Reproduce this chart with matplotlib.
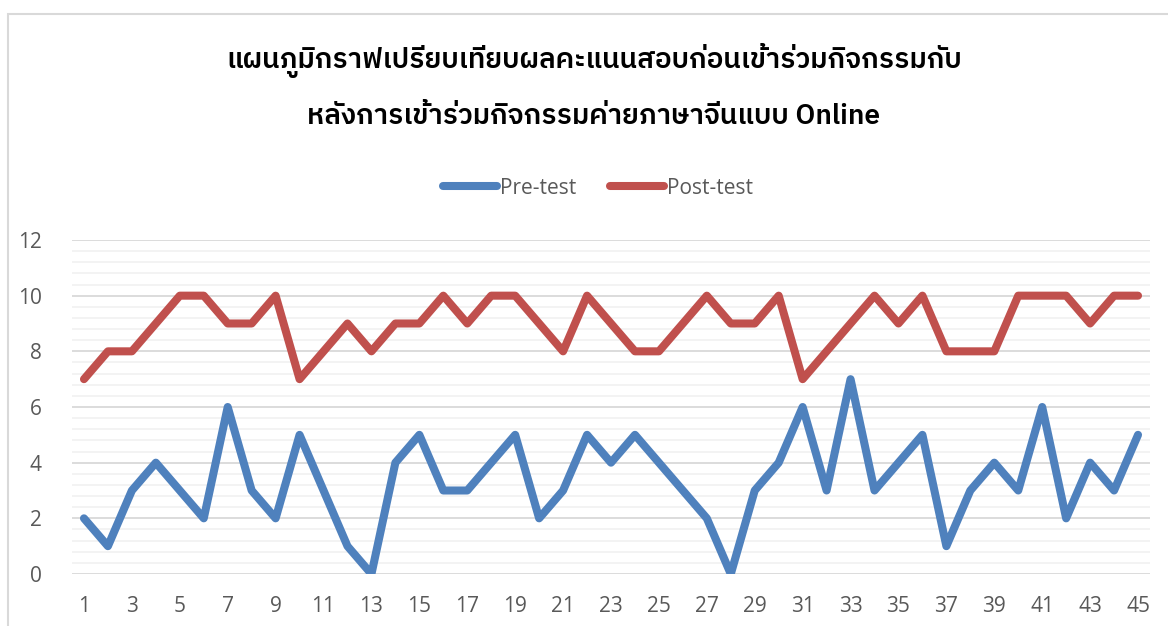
import numpy as np
import matplotlib
matplotlib.use("Agg")
import matplotlib.pyplot as plt
from matplotlib import font_manager
from matplotlib.ticker import MultipleLocator
from matplotlib.patches import Rectangle

# ข้อมูลคะแนน 45 คน
students = list(range(1, 46))
pre_test = [2, 1, 3, 4, 3, 2, 6, 3, 2, 5, 3, 1, 0, 4, 5, 3, 3, 4, 5, 2, 3, 5, 4, 5, 4,
            3, 2, 0, 3, 4, 6, 3, 7, 3, 4, 5, 1, 3, 4, 3, 6, 2, 4, 3, 5]
post_test = [7, 8, 8, 9, 10, 10, 9, 9, 10, 7, 8, 9, 8, 9, 9, 10, 9, 10, 10, 9, 8, 10, 9, 8, 8,
             9, 10, 9, 9, 10, 7, 8, 9, 10, 9, 10, 8, 8, 8, 10, 10, 10, 9, 10, 10]
series_names = ["Pre-test", "Post-test"]
title_lines = ["แผนภูมิกราฟเปรียบเทียบผลคะแนนสอบก่อนเข้าร่วมกิจกรรมกับ",
               "หลังการเข้าร่วมกิจกรรมค่ายภาษาจีนแบบ Online"]

# หาฟอนต์ภาษาไทยถ้ามี
thai_fonts = sorted({f.name for f in font_manager.fontManager.ttflist if "Thai" in f.name})
title_family = thai_fonts + ["Open Sans", "DejaVu Sans"]

plt.rcParams['font.family'] = ["Open Sans", "DejaVu Sans"]
text_color = "#595959"

fig = plt.figure(figsize=(11.68, 6.26), dpi=100)
fig.patches.append(Rectangle((8 / 1168, -0.1), 1.2, 1 - 14 / 626 + 0.1,
                             transform=fig.transFigure, fill=False,
                             edgecolor="#D9D9D9", linewidth=1.5))

ax = fig.add_axes([72 / 1168, 1 - 574 / 626, (1150 - 72) / 1168, (574 - 240) / 626])
ax.plot(students, pre_test, color="#4F81BD", linewidth=5.8, solid_capstyle="round",
        solid_joinstyle="round", label=series_names[0], zorder=3)
ax.plot(students, post_test, color="#C0504D", linewidth=5.8, solid_capstyle="round",
        solid_joinstyle="round", label=series_names[1], zorder=3)

ax.set_xlim(0.5, 45.5)
ax.set_ylim(0, 12)
ax.set_xticks(students[::2])
ax.yaxis.set_major_locator(MultipleLocator(2))
ax.yaxis.set_minor_locator(MultipleLocator(0.4))
ax.grid(axis="y", which="major", color="#D9D9D9", linewidth=1.3, zorder=0)
ax.grid(axis="y", which="minor", color="#F2F2F2", linewidth=1.3, zorder=0)
ax.set_axisbelow(True)
for s in ax.spines.values():
    s.set_visible(False)
ax.tick_params(axis="both", which="both", length=0, colors=text_color, labelsize=15)
ax.tick_params(axis="x", pad=16)
ax.tick_params(axis="y", pad=22)

leg = fig.legend(loc="center", bbox_to_anchor=(598 / 1168, 1 - 188 / 626), ncol=2,
                 frameon=False, fontsize=15, handlelength=2.6, handletextpad=0.15,
                 columnspacing=1.6)
for t in leg.get_texts():
    t.set_color(text_color)

fig.text(594 / 1168, 1 - 60 / 626, title_lines[0], ha="center", va="center", fontsize=20.2,
         fontweight="semibold", color="black", family=title_family)
fig.text(594 / 1168, 1 - 116 / 626, title_lines[1], ha="center", va="center", fontsize=20.2,
         fontweight="semibold", color="black", family=title_family)

fig.savefig("out.png", dpi=100)
